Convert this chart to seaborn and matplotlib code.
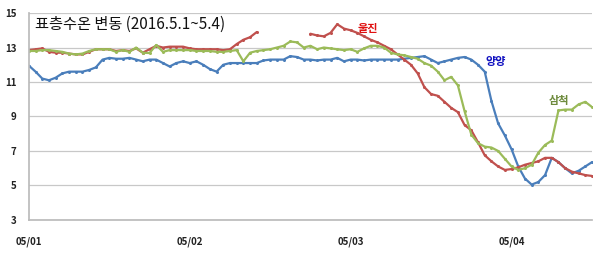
import numpy as np
import pandas as pd
import matplotlib
matplotlib.use("Agg")
import matplotlib.pyplot as plt
import seaborn as sns

# hours since 05/01 00:00
hours = list(range(85))

yangyang = [11.95, 11.6, 11.2, 11.1, 11.25, 11.5, 11.6, 11.6, 11.6, 11.7,
            11.85, 12.3, 12.4, 12.35, 12.35, 12.4, 12.3, 12.2, 12.3, 12.3,
            12.1, 11.9, 12.1, 12.2, 12.1, 12.2, 12.0, 11.75, 11.6, 12.0,
            12.1, 12.1, 12.1, 12.1, 12.1, 12.25, 12.3, 12.3, 12.3, 12.5,
            12.45, 12.3, 12.3, 12.25, 12.3, 12.3, 12.4, 12.2, 12.3, 12.3,
            12.25, 12.3, 12.3, 12.3, 12.3, 12.3, 12.35, 12.4, 12.45, 12.5,
            12.3, 12.1, 12.2, 12.3, 12.4, 12.45, 12.3, 12.0, 11.6, 9.9,
            8.6, 7.9, 7.1, 6.1, 5.4, 5.05, 5.2, 5.6, 6.6, 6.35,
            6.0, 5.7, 5.85, 6.1, 6.35]

uljin = [12.85, 12.9, 12.95, 12.75, 12.7, 12.7, 12.65, 12.6, 12.6, 12.75,
         12.9, 12.9, 12.9, 12.8, 12.85, 12.8, 12.95, 12.7, 12.9, 13.1,
         13.0, 13.05, 13.05, 13.05, 12.95, 12.9, 12.9, 12.9, 12.9, 12.85,
         12.9, 13.2, 13.45, 13.6, 13.9, np.nan, np.nan, np.nan, np.nan, np.nan,
         np.nan, np.nan, 13.8, 13.7, 13.65, 13.85, 14.35, 14.1, 14.0, 13.85,
         13.65, 13.45, 13.3, 13.1, 12.9, 12.6, 12.3, 12.0, 11.5, 10.7,
         10.3, 10.2, 9.85, 9.5, 9.25, 8.5, 8.2, 7.5, 6.75, 6.4,
         6.1, 5.9, 5.95, 6.05, 6.2, 6.3, 6.4, 6.6, 6.6, 6.35,
         6.0, 5.8, 5.7, 5.6, 5.55]

samcheok = [12.8, 12.8, 12.85, 12.85, 12.8, 12.75, 12.65, 12.6, 12.65, 12.8,
            12.9, 12.9, 12.9, 12.75, 12.85, 12.75, 13.0, 12.7, 12.68, 13.15,
            12.75, 12.85, 12.85, 12.85, 12.85, 12.8, 12.8, 12.8, 12.75, 12.75,
            12.8, 12.85, 12.2, 12.7, 12.8, 12.85, 12.9, 13.0, 13.1, 13.35,
            13.3, 13.0, 13.1, 12.9, 13.0, 12.95, 12.9, 12.85, 12.9, 12.75,
            12.95, 13.1, 13.1, 13.0, 12.7, 12.6, 12.55, 12.45, 12.35, 12.1,
            11.95, 11.6, 11.1, 11.3, 10.8, 9.3, 7.95, 7.45, 7.25, 7.2,
            7.0, 6.55, 6.1, 5.9, 6.0, 6.2, 6.9, 7.35, 7.6, 9.35,
            9.4, 9.4, 9.7, 9.85, 9.55]

stations = ["양양", "울진", "삼척"]
tick_pos = [0, 24, 48, 72]
tick_labels = ["05/01", "05/02", "05/03", "05/04"]
y_ticks = [3, 5, 7, 9, 11, 13, 15]
title = "표층수온 변동 (2016.5.1~5.4)"

df = pd.DataFrame({
    "hour": hours * 3,
    "temp": yangyang + uljin + samcheok,
    "station": ["양양"] * len(hours) + ["울진"] * len(hours) + ["삼척"] * len(hours),
})
# split each station into continuous segments so gaps (missing data) stay open
df["segment"] = df.groupby("station")["temp"].transform(lambda s: s.isna().cumsum())
df = df.dropna(subset=["temp"])

sns.set_theme(style="white")
plt.rcParams['font.family'] = ['Noto Sans CJK KR', 'DejaVu Sans']

fig = plt.figure(figsize=(6.01, 2.56), dpi=100)
ax = fig.add_axes([0.048, 0.141, 0.937, 0.808])

line_colors = {"양양": "#4a7ebb", "울진": "#c0504d", "삼척": "#9bbb59"}
for st in stations:
    sub = df[df["station"] == st]
    sns.lineplot(data=sub, x="hour", y="temp", units="segment", ax=ax,
                 color=line_colors[st], linewidth=1.6, marker="o",
                 markersize=2.2, markeredgewidth=0, legend=False,
                 estimator=None)

ax.set_xlim(0, 84)
ax.set_ylim(3, 15)
ax.set_yticks(y_ticks)
ax.set_yticklabels([str(v) for v in y_ticks], fontsize=7, fontweight='bold', color='#222222')
ax.set_xticks(tick_pos)
ax.set_xticklabels(tick_labels, fontsize=7, fontweight='bold', color='#222222')
ax.set_xlabel("")
ax.set_ylabel("")
ax.grid(axis='y', color='#c8c8c8', linewidth=0.9)
ax.grid(axis='x', visible=False)
for s in ["top", "right"]:
    ax.spines[s].set_visible(False)
ax.spines["left"].set_color("#bbbbbb")
ax.spines["bottom"].set_color("#bbbbbb")
ax.tick_params(axis='both', length=3, width=0.8, color='#bbbbbb', pad=6)
ax.tick_params(axis='x', pad=9)

fig.text(0.058, 0.905, title, fontsize=11, color='#111111', va='center', ha='left')
ax.text(50.5, 14.1, "울진", color="#e01010", fontsize=8, fontweight='bold', ha='center', va='center')
ax.text(69.6, 12.2, "양양", color="#1010c0", fontsize=8, fontweight='bold', ha='center', va='center')
ax.text(79.0, 9.9, "삼척", color="#6e8b3d", fontsize=8, fontweight='bold', ha='center', va='center')

fig.savefig("out.png", dpi=100)
